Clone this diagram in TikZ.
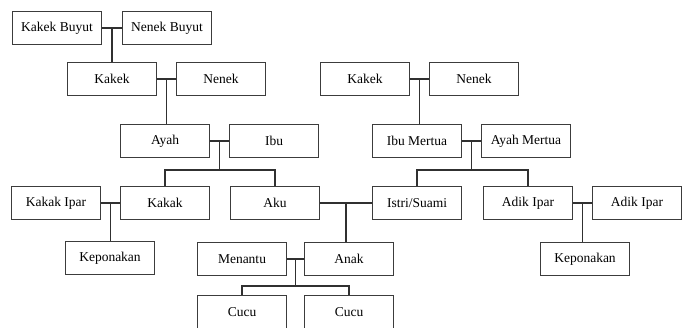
\documentclass[tikz,border=0pt]{standalone}
\usepackage{fontspec}
\setmainfont{Liberation Serif}
\usetikzlibrary{calc}
\definecolor{boxgray}{HTML}{3C3C3C}
\definecolor{linegray}{HTML}{303030}
\begin{document}
\begin{tikzpicture}[x=1pt,y=-1pt,
  person/.style={draw=boxgray,line width=1.2pt,minimum width=89pt,minimum height=33pt,inner sep=0pt,font=\fontsize{13.5}{16}\selectfont,text=black},
  link/.style={draw=linegray,line width=1.1pt}]
\useasboundingbox (0,0) rectangle (688,327);
\clip (0,0) rectangle (688,327);
% nodes
\node[person] (kb) at (57,28) {Kakek Buyut};
\node[person] (nb) at (167,28) {Nenek Buyut};
\node[person] (kl) at (112,79) {Kakek};
\node[person] (nl) at (221,79) {Nenek};
\node[person] (ayah) at (165,141) {Ayah};
\node[person] (ibu) at (274,141) {Ibu};
\node[person] (kr) at (365,79) {Kakek};
\node[person] (nr) at (474,79) {Nenek};
\node[person] (im) at (417,141) {Ibu Mertua};
\node[person] (am) at (526,141) {Ayah Mertua};
\node[person] (ki) at (56,203) {Kakak Ipar};
\node[person] (kakak) at (165,203) {Kakak};
\node[person] (aku) at (275,203) {Aku};
\node[person] (is) at (417,203) {Istri/Suami};
\node[person] (ai1) at (528,203) {Adik Ipar};
\node[person] (ai2) at (637,203) {Adik Ipar};
\node[person] (kep1) at (110,258) {Keponakan};
\node[person] (men) at (242,259) {Menantu};
\node[person] (anak) at (349,259) {Anak};
\node[person] (kep2) at (585,259) {Keponakan};
\node[person] (cucu1) at (242,312) {Cucu};
\node[person] (cucu2) at (349,312) {Cucu};
% junctions
\coordinate (j1) at ($(kb.east)!0.5!(nb.west)$);
\coordinate (j2) at ($(kl.east)!0.5!(nl.west)$);
\coordinate (j3) at ($(ayah.east)!0.5!(ibu.west)$);
\coordinate (j4) at ($(kr.east)!0.5!(nr.west)$);
\coordinate (j5) at ($(im.east)!0.5!(am.west)$);
\coordinate (j6) at ($(aku.east)!0.5!(is.west)$);
\coordinate (j7) at ($(ki.east)!0.5!(kakak.west)$);
\coordinate (j8) at ($(ai1.east)!0.5!(ai2.west)$);
\coordinate (j9) at ($(men.east)!0.5!(anak.west)$);
\coordinate (b3) at ($(j3)+(0,29)$);
\coordinate (b5) at ($(j5)+(0,29)$);
\coordinate (b9) at ($(j9)+(0,27)$);
% connectors
\draw[link] (kb.east) -- (nb.west);
\draw[link] (j1) -- (j1 |- kl.north);
\draw[link] (kl.east) -- (nl.west);
\draw[link] (j2) -- (j2 |- ayah.north);
\draw[link] (ayah.east) -- (ibu.west);
\draw[link] (j3) -- (b3);
\draw[link] (kakak.north) |- (b3) -| (aku.north);
\draw[link] (kr.east) -- (nr.west);
\draw[link] (j4) -- (j4 |- im.north);
\draw[link] (im.east) -- (am.west);
\draw[link] (j5) -- (b5);
\draw[link] (is.north) |- (b5) -| (ai1.north);
\draw[link] (aku.east) -- (is.west);
\draw[link] (j6) -- (j6 |- anak.north);
\draw[link] (ki.east) -- (kakak.west);
\draw[link] (j7) -- (j7 |- kep1.north);
\draw[link] (ai1.east) -- (ai2.west);
\draw[link] (j8) -- (j8 |- kep2.north);
\draw[link] (men.east) -- (anak.west);
\draw[link] (j9) -- (b9);
\draw[link] (cucu1.north) |- (b9) -| (cucu2.north);
\end{tikzpicture}
\end{document}
